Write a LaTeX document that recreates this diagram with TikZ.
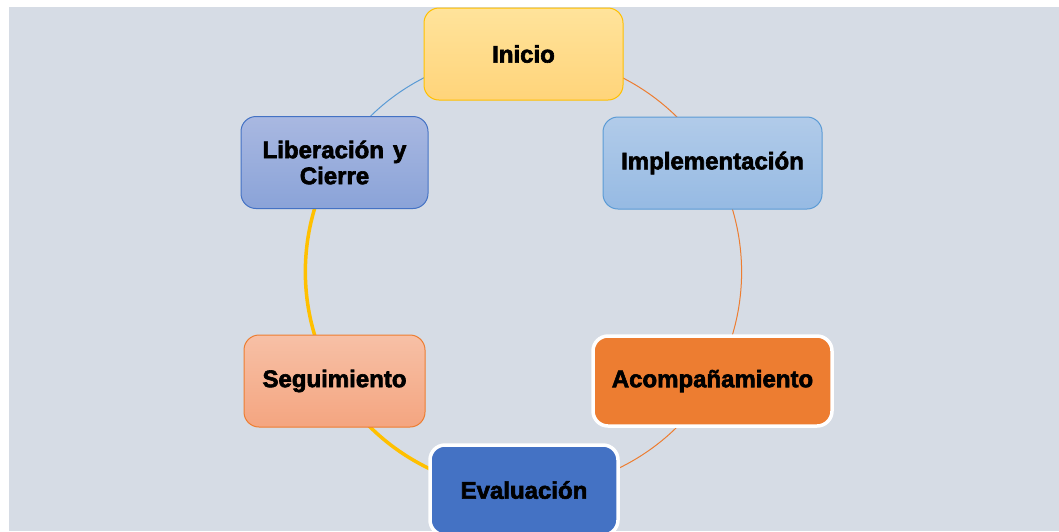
\documentclass[tikz,border=0pt]{standalone}
\usepackage{fontspec}
\newfontfamily\bxfont{Liberation Sans}[BoldFont={Liberation Sans Bold}, BoldFeatures={FakeBold=2.5}]
\usetikzlibrary{positioning}
\pgfdeclarelayer{back}
\pgfdeclarelayer{edges}
\pgfsetlayers{back,edges,main}
\definecolor{bgc}{HTML}{D6DCE5}
\definecolor{yel}{HTML}{FFC000}
\definecolor{org}{HTML}{ED7D31}
\definecolor{blu}{HTML}{5B9BD5}
\definecolor{dblu}{HTML}{4472C4}
\tikzset{
  box/.style={rounded corners=15pt, minimum height=92pt, align=center,
    font=\bxfont\bfseries\fontsize{24}{26}\selectfont, text=black, line width=1pt, inner sep=0pt},
  solidbox/.style={box, draw=white, line width=3.5pt, minimum height=90pt},
  arcc/.style={bend left=30, looseness=0.9126},
  thin/.style={line width=1pt},
  thick/.style={line width=3.5pt}
}
\begin{document}
\begin{tikzpicture}[x=1pt,y=-1pt]
\useasboundingbox (0,0) rectangle (1059,531);
\clip (0,0) rectangle (1059,531);
\begin{pgfonlayer}{back}
\fill[white] (0,0) rectangle (1059,531);
\fill[bgc] (9,7) rectangle (1059,531);
\end{pgfonlayer}
\node[box, draw=yel, top color={rgb,255:red,255;green,227;blue,155}, bottom color={rgb,255:red,255;green,212;blue,122}, minimum width=199pt] (ini) at (523.5,54) {Inicio};
\node[box, draw=blu, top color={rgb,255:red,177;green,203;blue,233}, bottom color={rgb,255:red,150;green,186;blue,227}, minimum width=219pt] (imp) at (712.5,163) {Implementación};
\node[solidbox, fill=org, minimum width=239pt] (aco) at (712.5,381) {Acompañamiento};
\node[solidbox, fill=dblu, minimum width=188pt] (eva) at (524,490) {Evaluación};
\node[box, draw=org, top color={rgb,255:red,247;green,192;blue,166}, bottom color={rgb,255:red,244;green,165;blue,128}, minimum width=181pt] (seg) at (334.5,381) {Seguimiento};
\node[box, draw=dblu, top color={rgb,255:red,169;green,184;blue,225}, bottom color={rgb,255:red,138;green,163;blue,216}, minimum width=187pt] (lib) at (334.5,162.5) {Liberación\hspace{0.1em} y\\Cierre};
\begin{pgfonlayer}{edges}
\draw[thin, org] (ini.center) to[arcc] (imp.center);
\draw[thin, org] (imp.center) to[arcc] (aco.center);
\draw[thin, org] (aco.center) to[arcc] (eva.center);
\draw[thick, yel] (eva.center) to[arcc] (seg.center);
\draw[thick, yel] (seg.center) to[arcc] (lib.center);
\draw[thin, blu] (lib.center) to[arcc] (ini.center);
\end{pgfonlayer}
\end{tikzpicture}
\end{document}
